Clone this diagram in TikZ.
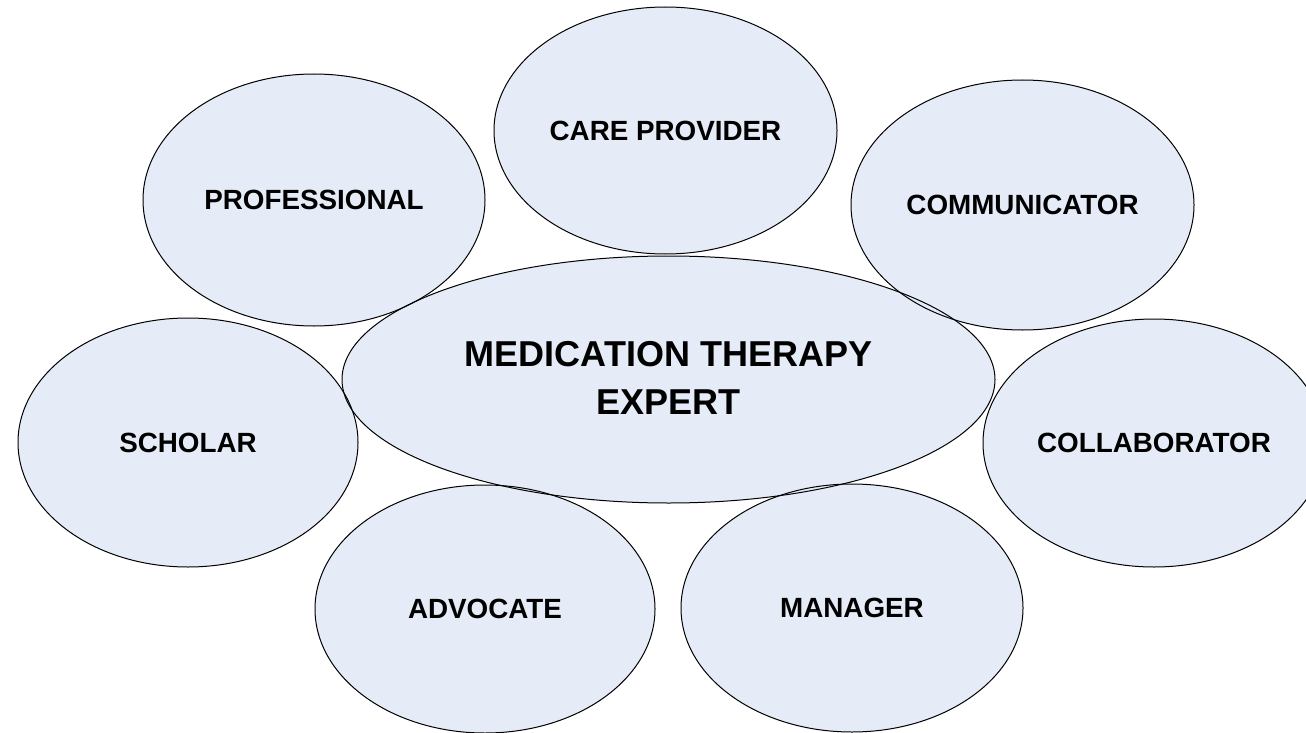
\documentclass[tikz,border=0pt]{standalone}
\usepackage{fontspec}
\setmainfont{Liberation Sans}
\usepackage{tikz}
\definecolor{bubblefill}{HTML}{E6ECF7}

\begin{document}
\begin{tikzpicture}[x=1pt, y=-1pt,
    bubble/.style={fill=bubblefill},
    rim/.style={draw=black, line width=1pt},
    role/.style={font=\bfseries\fontsize{27.8}{33}\selectfont, inner sep=0pt}]
    \useasboundingbox (0,0) rectangle (1306,733);

    % Centres of the bubbles
    \coordinate (mte) at (668.5,379.5);
    \coordinate (care) at (665.5,130.5);
    \coordinate (prof) at (314,200);
    \coordinate (comm) at (1022.5,205);
    \coordinate (schol) at (188,442.5);
    \coordinate (collab) at (1154,443);
    \coordinate (advo) at (485,609);
    \coordinate (mgr) at (852,608);

    % Fill all bubbles first, so every rim stays visible
    \fill[bubble] (care) ellipse [x radius=171.5pt, y radius=123.5pt];
    \fill[bubble] (prof) ellipse [x radius=171pt, y radius=126pt];
    \fill[bubble] (comm) ellipse [x radius=171.5pt, y radius=125pt];
    \fill[bubble] (schol) ellipse [x radius=170pt, y radius=124.5pt];
    \fill[bubble] (collab) ellipse [x radius=171pt, y radius=124pt];
    \fill[bubble] (advo) ellipse [x radius=170pt, y radius=124pt];
    \fill[bubble] (mgr) ellipse [x radius=171pt, y radius=124pt];
    \fill[bubble] (mte) ellipse [x radius=326.5pt, y radius=123.5pt];

    % Rims
    \draw[rim] (care) ellipse [x radius=171.5pt, y radius=123.5pt];
    \draw[rim] (prof) ellipse [x radius=171pt, y radius=126pt];
    \draw[rim] (comm) ellipse [x radius=171.5pt, y radius=125pt];
    \draw[rim] (schol) ellipse [x radius=170pt, y radius=124.5pt];
    \draw[rim] (collab) ellipse [x radius=171pt, y radius=124pt];
    \draw[rim] (advo) ellipse [x radius=170pt, y radius=124pt];
    \draw[rim] (mgr) ellipse [x radius=171pt, y radius=124pt];
    \draw[rim] (mte) ellipse [x radius=326.5pt, y radius=123.5pt];

    % Labels
    \node[role] (careL) at (care) {CARE PROVIDER};
    \node[role] (profL) at (prof) {PROFESSIONAL};
    \node[role] (commL) at (comm) {COMMUNICATOR};
    \node[role] (scholL) at (schol) {SCHOLAR};
    \node[role] (collabL) at (collab) {COLLABORATOR};
    \node[role] (advoL) at (advo) {ADVOCATE};
    \node[role] (mgrL) at (mgr) {MANAGER};
    \node[role, align=center, font=\bfseries\fontsize{36}{48.5}\selectfont] (mteL) at (668.5,378) {MEDICATION THERAPY\\EXPERT};
\end{tikzpicture}
\end{document}
